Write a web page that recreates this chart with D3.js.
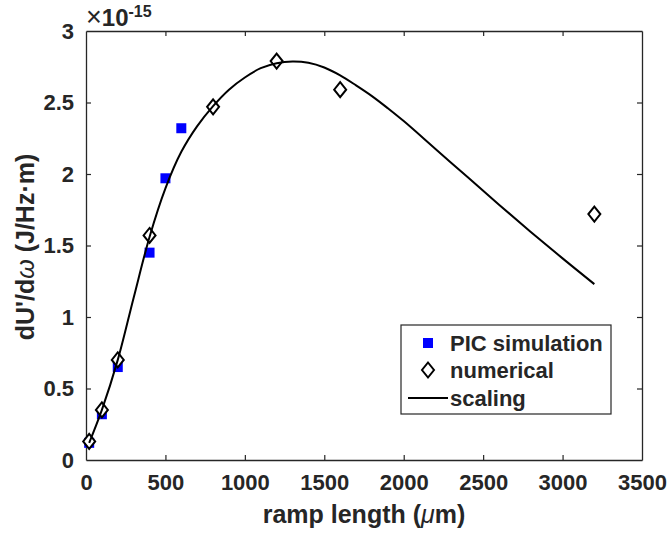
<!DOCTYPE html>
<html>
<head>
<meta charset="utf-8">
<script src="https://cdn.jsdelivr.net/npm/d3@7/dist/d3.min.js"></script>
<style>
  html, body { margin: 0; padding: 0; background: #fff; }
  svg { display: block; }
  text { font-family: "Liberation Sans", Arial, Helvetica, sans-serif; font-weight: bold; fill: #262626; }
</style>
</head>
<body>
<svg id="chart" width="670" height="535"></svg>
<script>
// Ramp length (µm) and spectral energy density (×1e-15 J/Hz·m)
const picX = [20, 100, 200, 400, 500, 600];
const picY = [0.12, 0.32, 0.65, 1.45, 1.97, 2.32];

const numX = [20, 100, 200, 400, 800, 1200, 1600, 3200];
const numY = [0.13, 0.35, 0.70, 1.57, 2.47, 2.79, 2.59, 1.72];

const scalingX = [20, 100, 200, 300, 400, 500, 600, 700, 800, 900, 1000, 1100, 1200, 1300,
                  1400, 1500, 1600, 1700, 1800, 1900, 2000, 2200, 2400, 2600, 2800, 3000, 3200];
const scalingY = [0.12, 0.35, 0.70, 1.135, 1.56, 1.90, 2.155, 2.335, 2.475, 2.59, 2.675, 2.74, 2.775, 2.787,
                  2.778, 2.745, 2.69, 2.62, 2.545, 2.46, 2.37, 2.175, 1.98, 1.785, 1.595, 1.41, 1.23];

const xTicks = [0, 500, 1000, 1500, 2000, 2500, 3000, 3500];
const yTicks = [0, 0.5, 1, 1.5, 2, 2.5, 3];
const yTickLabels = ["0", "0.5", "1", "1.5", "2", "2.5", "3"];

const legendLabels = ["PIC simulation", "numerical", "scaling"];

const svg = d3.select("#chart");
const plotL = 86, plotR = 642, plotT = 31, plotB = 460;
const x = d3.scaleLinear().domain([0, 3500]).range([plotL, plotR]);
const y = d3.scaleLinear().domain([0, 3]).range([plotB, plotT]);
const axisColor = "#262626";
const tickLen = 5;

// Axes box with inward ticks on all four sides
const gx = svg.append("g").attr("transform", `translate(0,${plotB})`)
  .call(d3.axisBottom(x).tickValues(xTicks).tickSizeInner(-tickLen).tickSizeOuter(0).tickPadding(14)
    .tickFormat(d3.format("d")));
const gxTop = svg.append("g").attr("transform", `translate(0,${plotT})`)
  .call(d3.axisTop(x).tickValues(xTicks).tickSizeInner(-tickLen).tickSizeOuter(0).tickFormat(""));
const gy = svg.append("g").attr("transform", `translate(${plotL},0)`)
  .call(d3.axisLeft(y).tickValues(yTicks).tickSizeInner(-tickLen).tickSizeOuter(0).tickPadding(12)
    .tickFormat((d, i) => yTickLabels[i]));
const gyRight = svg.append("g").attr("transform", `translate(${plotR},0)`)
  .call(d3.axisRight(y).tickValues(yTicks).tickSizeInner(-tickLen).tickSizeOuter(0).tickFormat(""));

[gx, gxTop, gy, gyRight].forEach(g => {
  g.selectAll(".domain").attr("stroke", axisColor).attr("stroke-width", 1.3);
  g.selectAll(".tick line").attr("stroke", axisColor).attr("stroke-width", 1.2);
  g.selectAll(".tick text").attr("font-size", 22).attr("fill", axisColor)
    .style("font-family", '"Liberation Sans", Arial, sans-serif').style("font-weight", "bold");
});
// drop the ticks that sit on the box corners
gx.selectAll(".tick").filter(d => d === 0 || d === 3500).select("line").remove();
gxTop.selectAll(".tick").filter(d => d === 0 || d === 3500).select("line").remove();
gy.selectAll(".tick").filter(d => d === 0 || d === 3).select("line").remove();
gyRight.selectAll(".tick").filter(d => d === 0 || d === 3).select("line").remove();

// Exponent label
const expo = svg.append("text").attr("x", plotL).attr("y", 26).attr("font-size", 24);
expo.append("tspan").attr("font-weight", "normal").attr("font-size", 27).text("×");
expo.append("tspan").text("10");
expo.append("tspan").attr("font-size", 16).attr("dy", -9).text("-15");

// Axis titles
const xt = svg.append("text").attr("x", (plotL + plotR) / 2).attr("y", 523)
  .attr("text-anchor", "middle").attr("font-size", 25);
xt.append("tspan").text("ramp length (");
xt.append("tspan").attr("font-style", "italic").attr("font-weight", "normal").text("μ");
xt.append("tspan").text("m)");

const yt = svg.append("text").attr("transform", `translate(34,247) rotate(-90)`)
  .attr("text-anchor", "middle").attr("font-size", 25);
yt.append("tspan").text("dU'/d");
yt.append("tspan").attr("font-style", "italic").attr("font-weight", "normal").text("ω");
yt.append("tspan").text(" (J/Hz·m)");

// PIC simulation squares
const sq = 10;
svg.append("g").selectAll("rect").data(picX.map((d, i) => [d, picY[i]])).join("rect")
  .attr("x", d => x(d[0]) - sq / 2).attr("y", d => y(d[1]) - sq / 2)
  .attr("width", sq).attr("height", sq).attr("fill", "#0000ff");

// Numerical diamonds
const dw = 6, dh = 7.5;
const diamond = (cx, cy) => `M${cx},${cy - dh}L${cx + dw},${cy}L${cx},${cy + dh}L${cx - dw},${cy}Z`;
svg.append("g").selectAll("path").data(numX.map((d, i) => [d, numY[i]])).join("path")
  .attr("d", d => diamond(x(d[0]), y(d[1])))
  .attr("fill", "#fff").attr("stroke", "#000").attr("stroke-width", 2);

// Scaling curve
const line = d3.line().x(d => x(d[0])).y(d => y(d[1])).curve(d3.curveCatmullRom.alpha(0.5));
svg.append("path").datum(scalingX.map((d, i) => [d, scalingY[i]]))
  .attr("d", line).attr("fill", "none").attr("stroke", "#000").attr("stroke-width", 2);

// Legend
const lg = svg.append("g");
lg.append("rect").attr("x", 401).attr("y", 325).attr("width", 210).attr("height", 89)
  .attr("fill", "#fff").attr("stroke", axisColor).attr("stroke-width", 1.2);
const rowY = [343, 370, 398];
lg.append("rect").attr("x", 428 - 5).attr("y", rowY[0] - 5).attr("width", 10).attr("height", 10).attr("fill", "#0000ff");
lg.append("path").attr("d", diamond(428, rowY[1])).attr("fill", "#fff").attr("stroke", "#000").attr("stroke-width", 2);
lg.append("line").attr("x1", 408).attr("x2", 448).attr("y1", rowY[2]).attr("y2", rowY[2])
  .attr("stroke", "#000").attr("stroke-width", 2);
lg.selectAll("text.lbl").data(legendLabels).join("text").attr("class", "lbl")
  .attr("x", 450).attr("y", (d, i) => rowY[i]).attr("dy", "0.36em").attr("font-size", 22)
  .attr("fill", "#000").text(d => d);
</script>
</body>
</html>
